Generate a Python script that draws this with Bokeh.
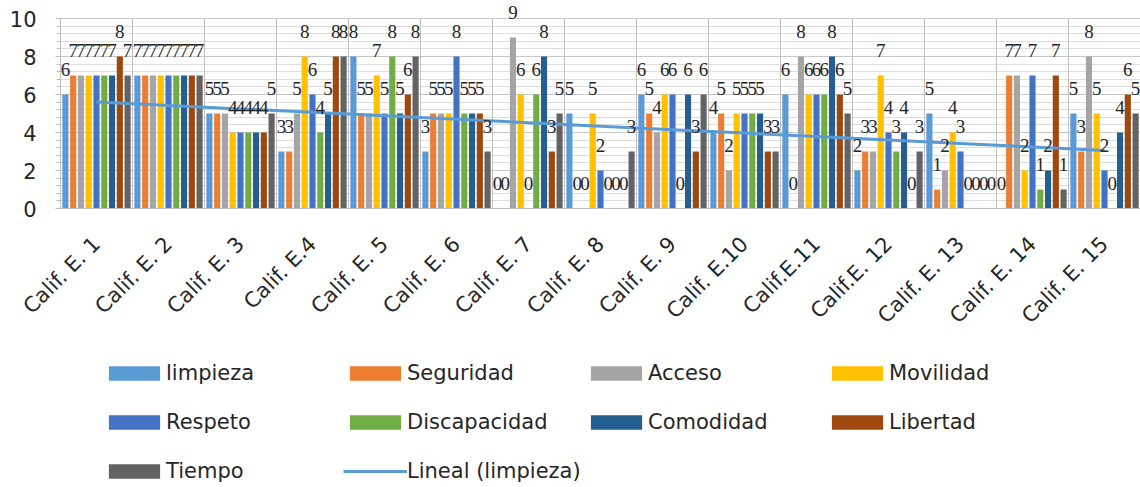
import numpy as np
from bokeh.plotting import figure
from bokeh.layouts import column
from bokeh.models import (Range1d, FixedTicker, Legend, LegendItem, LabelSet,
                          ColumnDataSource)
from bokeh.embed import file_html
from bokeh.resources import INLINE

categories = ["Calif. E. 1", "Calif. E. 2", "Calif. E. 3", "Calif. E.4", "Calif. E. 5",
              "Calif. E. 6", "Calif. E. 7", "Calif. E. 8", "Calif. E. 9", "Calif. E.10",
              "Calif.E.11", "Calif.E. 12", "Calif. E. 13", "Calif. E. 14", "Calif. E. 15"]

series_names = ["limpieza", "Seguridad", "Acceso", "Movilidad", "Respeto",
                "Discapacidad", "Comodidad", "Libertad", "Tiempo"]

limpieza     = [6, 7, 5, 3, 8, 3, 0, 5, 6, 4, 6, 2, 5, 0, 5]
seguridad    = [7, 7, 5, 3, 5, 5, 0, 0, 5, 5, 0, 3, 1, 7, 3]
acceso       = [7, 7, 5, 5, 5, 5, 9, 0, 4, 2, 8, 3, 2, 7, 8]
movilidad    = [7, 7, 4, 8, 7, 5, 6, 5, 6, 5, 6, 7, 4, 2, 5]
respeto      = [7, 7, 4, 6, 5, 8, 0, 2, 6, 5, 6, 4, 3, 7, 2]
discapacidad = [7, 7, 4, 4, 8, 5, 6, 0, 0, 5, 6, 3, 0, 1, 0]
comodidad    = [7, 7, 4, 5, 5, 5, 8, 0, 6, 5, 8, 4, 0, 2, 4]
libertad     = [8, 7, 4, 8, 6, 5, 3, 0, 3, 3, 6, 0, 0, 7, 6]
tiempo       = [7, 7, 5, 8, 8, 3, 5, 3, 6, 3, 5, 3, 0, 1, 5]

series_values = [limpieza, seguridad, acceso, movilidad, respeto,
                 discapacidad, comodidad, libertad, tiempo]

colors = ["#5B9BD5", "#ED7D31", "#A5A5A5", "#FFC000", "#4472C4",
          "#70AD47", "#255E91", "#9E480E", "#636363"]

trend_label = "Lineal (limpieza)"
y_ticks = [0, 2, 4, 6, 8, 10]

FONT = "DejaVu Sans"
TXT = "#262626"

n = len(categories)
centers = np.arange(n) + 0.5
minor = [round(v, 1) for v in np.arange(0, 10.01, 0.4)]

# ---------------- main chart ----------------
p = figure(frame_width=1080, frame_height=208, output_backend="svg", toolbar_location=None,
           x_range=Range1d(0, n), y_range=Range1d(0, 10.95),
           min_border_left=60, min_border_right=0, min_border_top=0,
           min_border_bottom=126,
           background_fill_color="white", border_fill_color="white")
p.outline_line_color = None

bounds_x = list(range(n + 1))
p.segment(x0=bounds_x, y0=[0] * len(bounds_x), x1=bounds_x, y1=[10] * len(bounds_x),
          line_color="#c0c0c0", line_width=1)

pitch = 0.108
bw = 0.085
for j, (name, vals, col) in enumerate(zip(series_names, series_values, colors)):
    xs = centers + (j - 4) * pitch
    src = ColumnDataSource(dict(x=xs, top=vals,
                                ly=[v + 0.97 for v in vals],
                                txt=[str(v) for v in vals]))
    p.vbar(x="x", top="top", width=bw, bottom=0, source=src,
           fill_color=col, line_color=None)
    p.add_layout(LabelSet(x="x", y="ly", text="txt", source=src,
                          text_align="center", text_baseline="alphabetic",
                          text_font=FONT, text_font_size="19px", text_color=TXT))

xi = np.arange(1, n + 1)
m, b = np.polyfit(xi, limpieza, 1)
trend = m * xi + b
p.line(centers, trend, line_color="#5B9BD5", line_width=3)

p.xaxis.ticker = FixedTicker(ticks=list(centers))
p.xaxis.major_label_overrides = {float(c): lab for c, lab in zip(centers, categories)}
p.xaxis.major_label_orientation = np.pi / 4
p.xaxis.major_tick_line_color = None
p.xaxis.minor_tick_line_color = None
p.xaxis.axis_line_color = "#bfbfbf"
p.xaxis.major_label_text_font = FONT
p.xaxis.major_label_text_font_size = "21px"
p.xaxis.major_label_text_color = TXT
p.xaxis.major_label_standoff = 26

p.yaxis.ticker = FixedTicker(ticks=y_ticks, minor_ticks=minor)
p.yaxis.bounds = (0, 10)
p.yaxis.axis_line_color = "#bfbfbf"
p.yaxis.major_tick_line_color = "#bfbfbf"
p.yaxis.minor_tick_line_color = "#bfbfbf"
p.yaxis.major_tick_out = 5
p.yaxis.major_tick_in = 0
p.yaxis.minor_tick_out = 4
p.yaxis.minor_tick_in = 0
p.yaxis.major_label_text_font = FONT
p.yaxis.major_label_text_font_size = "21px"
p.yaxis.major_label_text_color = TXT
p.yaxis.major_label_standoff = 19

p.ygrid.ticker = FixedTicker(ticks=y_ticks, minor_ticks=minor)
p.ygrid.grid_line_color = "#c8c8c8"
p.ygrid.minor_grid_line_color = "#dedede"
p.xgrid.grid_line_color = None

# ---------------- legend strip ----------------
lg = figure(width=1140, height=153, output_backend="svg", toolbar_location=None,
            x_range=Range1d(0, 1), y_range=Range1d(0, 1),
            x_axis_location=None, y_axis_location=None,
            min_border_left=0, min_border_top=0, min_border_right=0,
            min_border_bottom=0,
            background_fill_color="white", border_fill_color="white")
lg.outline_line_color = None
lg.grid.grid_line_color = None

items = []
for name, col in zip(series_names, colors):
    r = lg.vbar(x=[5], top=[0.5], width=0.1, fill_color=col, line_color=None)
    items.append(LegendItem(label=name, renderers=[r]))
rl = lg.line(x=[5, 6], y=[0.5, 0.5], line_color="#5B9BD5", line_width=3)
items.append(LegendItem(label=trend_label, renderers=[rl]))

legend = Legend(items=items, ncols=4, orientation="horizontal", location=(42, -2),
                glyph_width=64, glyph_height=18, label_standoff=0,
                label_width=175, label_height=47, spacing=2,
                margin=0, padding=0,
                label_text_font=FONT, label_text_font_size="21px",
                label_text_color=TXT,
                border_line_color=None, background_fill_alpha=0)
lg.add_layout(legend, "center")

layout = column(p, lg, spacing=0)
open("out.html", "w").write(file_html(layout, INLINE))
